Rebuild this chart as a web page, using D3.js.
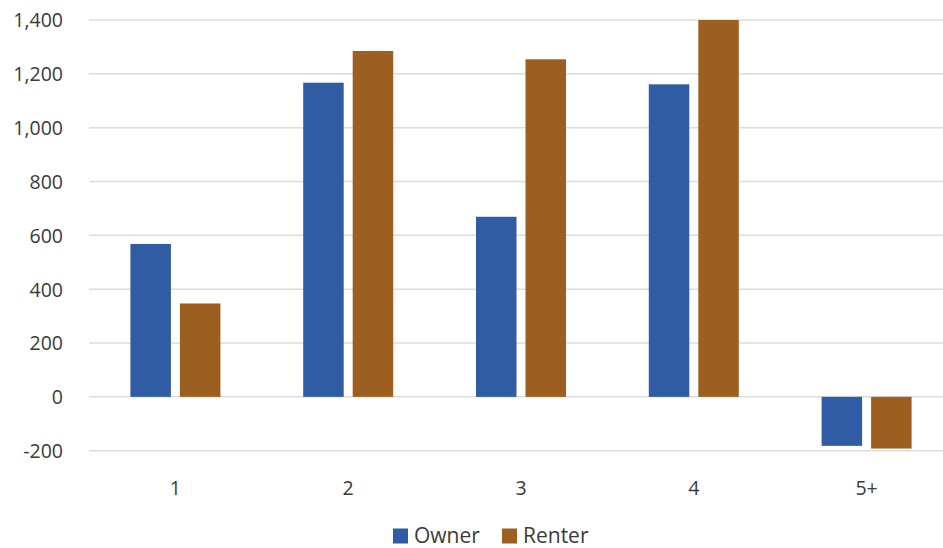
<!DOCTYPE html>
<html>
<head>
<meta charset="utf-8">
<script src="https://cdn.jsdelivr.net/npm/d3@7"></script>
<style>
  html, body { margin: 0; padding: 0; background: #fff; }
  svg { display: block; font-family: "Open Sans", "Noto Sans", sans-serif; }
</style>
</head>
<body>
<svg id="chart" width="943" height="548"></svg>
<script>
// Household size categories and change by tenure
const categories = ["1", "2", "3", "4", "5+"];
const seriesNames = ["Owner", "Renter"];
const ownerValues = [568, 1167, 669, 1161, -182];
const renterValues = [347, 1285, 1254, 1400, -192];
const yTicks = [-200, 0, 200, 400, 600, 800, 1000, 1200, 1400];
const colors = ["#2f5ca4", "#9c5f1f"];

const rows = categories.map((c, i) => ({ cat: c, values: [ownerValues[i], renterValues[i]] }));

const svg = d3.select("#chart");
const plotLeft = 89, plotRight = 953, plotTop = 20, plotBottom = 451;

const x = d3.scaleBand().domain(categories).range([plotLeft, plotRight]).paddingInner(0).paddingOuter(0);
const y = d3.scaleLinear().domain([-200, 1400]).range([plotBottom - 0.3, plotTop]);

const barW = 40.5, gap = 9;
const xs = d3.scaleBand().domain(seriesNames).range([0, 2 * barW + gap])
  .paddingInner(gap / (barW + gap)).paddingOuter(0);

const fmt = d3.format(",");
const label = d => fmt(d).replace("\u2212", "-");

// horizontal gridlines
svg.append("g")
  .selectAll("line")
  .data(yTicks)
  .join("line")
  .attr("x1", plotLeft).attr("x2", plotRight)
  .attr("y1", d => y(d)).attr("y2", d => y(d))
  .attr("stroke", "#dcdcdc")
  .attr("stroke-width", 1.5);

// y axis labels
const yAxis = d3.axisLeft(y).tickValues(yTicks).tickSize(0).tickPadding(0)
  .tickFormat(label);
svg.append("g")
  .attr("transform", `translate(63,0)`)
  .call(yAxis)
  .call(g => g.select(".domain").remove())
  .call(g => g.selectAll("text")
    .attr("fill", "#3a3a3a")
    .style("font-size", "19.5px")
    .style("font-family", "'Open Sans', 'Noto Sans', sans-serif")
    .attr("dy", "0.35em"));

// bars
const groups = svg.append("g")
  .selectAll("g")
  .data(rows)
  .join("g")
  .attr("transform", d => `translate(${x(d.cat) + (x.bandwidth() - (2 * barW + gap)) / 2},0)`);

groups.selectAll("rect")
  .data(d => d.values.map((v, i) => ({ key: seriesNames[i], v, i })))
  .join("rect")
  .attr("x", d => xs(d.key))
  .attr("width", xs.bandwidth())
  .attr("y", d => Math.min(y(d.v), y(0)))
  .attr("height", d => Math.abs(y(d.v) - y(0)))
  .attr("fill", d => colors[d.i]);

// x axis labels
const xAxis = d3.axisBottom(x).tickSize(0).tickPadding(0);
svg.append("g")
  .attr("transform", `translate(0,488)`)
  .call(xAxis)
  .call(g => g.select(".domain").remove())
  .call(g => g.selectAll("text")
    .attr("fill", "#3a3a3a")
    .attr("dy", "0.35em")
    .attr("y", 0)
    .style("font-size", "19.5px")
    .style("font-family", "'Open Sans', 'Noto Sans', sans-serif"));

// legend
const legend = svg.append("g").attr("transform", "translate(393,536)");
const legendX = [0, 109];
seriesNames.forEach((name, i) => {
  const g = legend.append("g").attr("transform", `translate(${legendX[i]},0)`);
  g.append("rect").attr("x", 0).attr("y", -7.5).attr("width", 15).attr("height", 15).attr("fill", colors[i]);
  g.append("text").attr("x", 21).attr("y", 0).attr("dy", "0.35em")
    .attr("fill", "#3a3a3a")
    .style("font-size", "21px")
    .text(name);
});
</script>
</body>
</html>
